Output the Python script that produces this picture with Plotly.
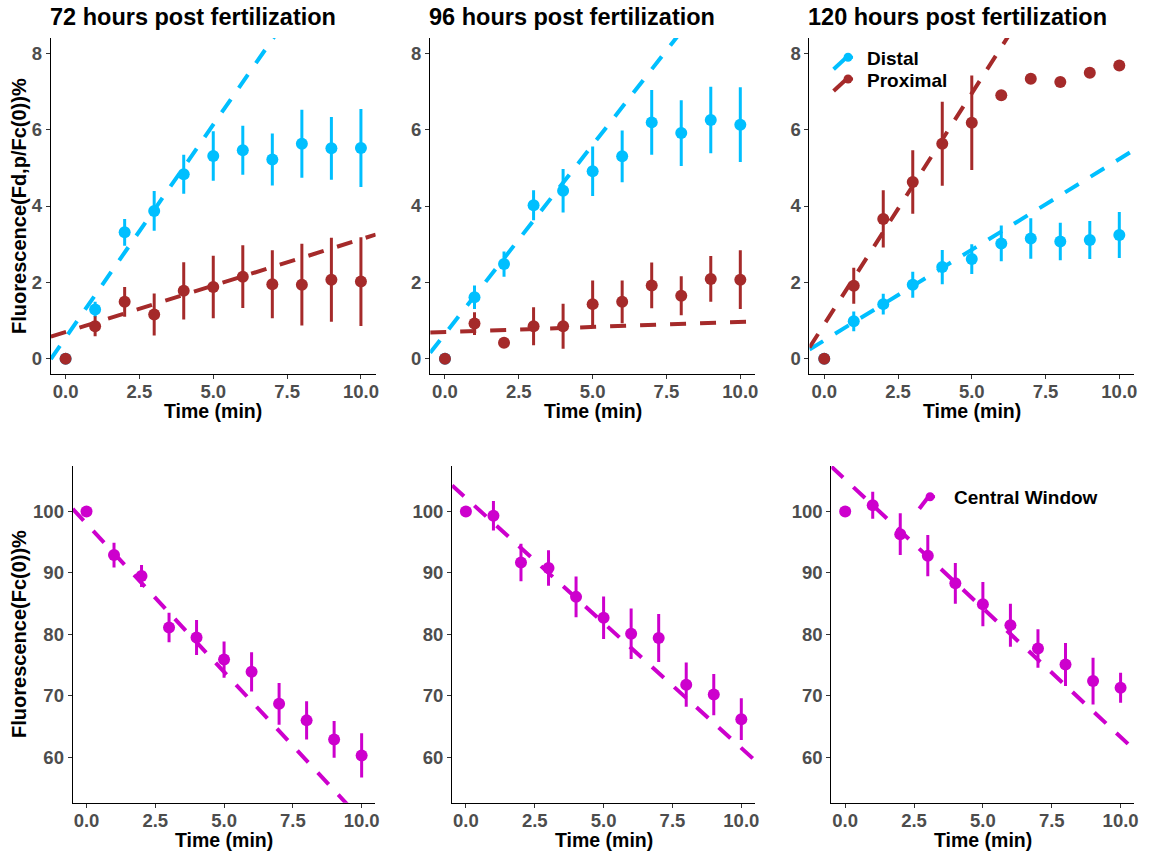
import plotly.graph_objects as go

# ---------------------------------------------------------------------------
# Data: mean fluorescence (%) with error bars, sampled every minute
# ---------------------------------------------------------------------------
time_min = [0, 1, 2, 3, 4, 5, 6, 7, 8, 9, 10]

panel_titles = ["72 hours post fertilization",
                "96 hours post fertilization",
                "120 hours post fertilization"]

# Distal / proximal ratio Fd,p / Fc(0)
distal_72 = [0, 1.29, 3.31, 3.87, 4.83, 5.31, 5.46, 5.22, 5.63, 5.51, 5.52]
distal_72_err = [0, 0.20, 0.35, 0.52, 0.51, 0.65, 0.64, 0.68, 0.89, 0.82, 1.02]
proximal_72 = [0, 0.85, 1.49, 1.16, 1.78, 1.88, 2.15, 1.95, 1.94, 2.07, 2.02]
proximal_72_err = [0, 0.26, 0.39, 0.55, 0.75, 0.82, 0.82, 0.89, 1.07, 1.10, 1.16]

distal_96 = [0, 1.61, 2.48, 4.02, 4.40, 4.91, 5.30, 6.19, 5.91, 6.25, 6.13]
distal_96_err = [0, 0.31, 0.33, 0.39, 0.57, 0.65, 0.68, 0.85, 0.86, 0.87, 0.98]
proximal_96 = [0, 0.92, 0.42, 0.85, 0.85, 1.43, 1.49, 1.92, 1.65, 2.09, 2.07]
proximal_96_err = [0, 0.30, 0.0, 0.50, 0.59, 0.62, 0.56, 0.60, 0.51, 0.60, 0.77]

distal_120 = [0, 0.98, 1.43, 1.94, 2.40, 2.61, 3.02, 3.15, 3.07, 3.11, 3.24]
distal_120_err = [0, 0.26, 0.27, 0.34, 0.45, 0.39, 0.47, 0.53, 0.49, 0.50, 0.60]
proximal_120 = [0, 1.91, 3.66, 4.63, 5.63, 6.18, 6.90, 7.33, 7.25, 7.49, 7.68]
proximal_120_err = [0, 0.47, 0.75, 0.83, 1.10, 1.24, 0, 0, 0, 0, 0]

# Central window Fc / Fc(0)
central_72 = [100, 92.9, 89.5, 81.1, 79.5, 75.9, 73.9, 68.7, 66.0, 62.9, 60.3]
central_72_err = [0, 2.0, 1.8, 2.4, 2.85, 2.95, 3.2, 3.4, 3.1, 3.0, 3.6]
central_96 = [100, 99.3, 91.7, 90.8, 86.1, 82.7, 80.1, 79.4, 71.8, 70.2, 66.2]
central_96_err = [0, 2.4, 3.05, 2.9, 3.3, 3.45, 4.1, 3.9, 3.6, 3.35, 3.4]
central_120 = [100, 101.0, 96.3, 92.8, 88.3, 84.9, 81.5, 77.7, 75.1, 72.4, 71.3]
central_120_err = [0, 2.2, 3.4, 3.35, 3.3, 3.6, 3.5, 3.15, 3.5, 3.8, 2.45]

# Linear fits (intercept, slope) drawn as dashed reference lines
distal_fit = [(0.55, 1.116), (0.65, 0.99), (0.48, 0.475)]
proximal_fit = [(0.70, 0.243), (0.70, 0.0264), (0.90, 1.21)]
central_fit = [(98.0, -4.82), (102.2, -4.07), (105.2, -4.19)]

x_ticks = [0, 2.5, 5, 7.5, 10]
x_tick_text = ["0.0", "2.5", "5.0", "7.5", "10.0"]
ratio_ticks = [0, 2, 4, 6, 8]
central_ticks = [60, 70, 80, 90, 100]

# ---------------------------------------------------------------------------
# Styling / layout
# ---------------------------------------------------------------------------
W, H = 1155, 854
FONT = "Liberation Sans, Arial, Helvetica, sans-serif"
BLUE = "#00BFFF"
RED = "#A52A2A"
MAGENTA = "#CD00CD"

# plot panel boxes in pixels: (left, right, top, bottom)
panels = [
    (51.0, 377.0, 38.0, 374.0),
    (431.7, 757.7, 38.0, 374.0),
    (812.3, 1138.0, 38.0, 374.0),
    (73.0, 376.7, 466.0, 802.7),
    (453.7, 757.7, 466.0, 802.7),
    (834.3, 1138.3, 466.0, 802.7),
]

X_RANGE = [-0.5, 10.5]
RATIO_RANGE = [-0.4, 8.4]
CENTRAL_RANGE = [52.6, 107.4]


def px(x):
    return x / W


def py(y):
    return 1 - y / H


fig = go.Figure()


def add_points(i, y, err, color):
    fig.add_trace(go.Scatter(
        x=time_min, y=y, mode="markers",
        marker=dict(size=12, color=color, line=dict(width=0)),
        error_y=dict(type="data", array=err, visible=True,
                     thickness=3, width=0, color=color),
        xaxis=f"x{i}", yaxis=f"y{i}", showlegend=False,
    ))


def add_fit(i, fit, color):
    a, b = fit
    xs = [X_RANGE[0], X_RANGE[1]]
    fig.add_trace(go.Scatter(
        x=xs, y=[a + b * x for x in xs], mode="lines",
        line=dict(color=color, width=4, dash="16px,14px"),
        xaxis=f"x{i}", yaxis=f"y{i}", showlegend=False, hoverinfo="skip",
    ))


ratio_sets = [
    (distal_72, distal_72_err, proximal_72, proximal_72_err),
    (distal_96, distal_96_err, proximal_96, proximal_96_err),
    (distal_120, distal_120_err, proximal_120, proximal_120_err),
]
central_sets = [
    (central_72, central_72_err),
    (central_96, central_96_err),
    (central_120, central_120_err),
]

for k, (d, de, p, pe) in enumerate(ratio_sets):
    i = k + 1
    add_points(i, d, de, BLUE)
    add_points(i, p, pe, RED)
    add_fit(i, distal_fit[k], BLUE)
    add_fit(i, proximal_fit[k], RED)

for k, (c, ce) in enumerate(central_sets):
    i = k + 4
    add_points(i, c, ce, MAGENTA)
    add_fit(i, central_fit[k], MAGENTA)

axis_common = dict(
    showline=True, linecolor="black", linewidth=1.2, mirror=False,
    ticks="outside", ticklen=4, tickwidth=1.2, tickcolor="#333333",
    showgrid=False, zeroline=False,
    tickfont=dict(family=FONT, size=18.5, color="#4D4D4D", weight="bold"),
)

layout = dict(
    width=W, height=H,
    margin=dict(l=0, r=0, t=0, b=0),
    paper_bgcolor="white", plot_bgcolor="white",
    showlegend=False,
    font=dict(family=FONT),
)

for n, (l, r, t, b) in enumerate(panels):
    i = n + 1
    sfx = "" if i == 1 else str(i)
    top_row = n < 3
    layout[f"xaxis{sfx}"] = dict(
        axis_common, domain=[px(l), px(r)], range=X_RANGE,
        tickvals=x_ticks, ticktext=x_tick_text, anchor=f"y{i}",
        ticklabelstandoff=-3,
    )
    layout[f"yaxis{sfx}"] = dict(
        axis_common, domain=[py(b), py(t)],
        range=RATIO_RANGE if top_row else CENTRAL_RANGE,
        tickvals=ratio_ticks if top_row else central_ticks,
        anchor=f"x{i}",
    )

fig.update_layout(**layout)

annotations = []
# Panel titles
for k, title in enumerate(panel_titles):
    annotations.append(dict(
        text=title, x=px(panels[k][0] - 3), y=py(17.5), xref="paper", yref="paper",
        xanchor="left", yanchor="middle", showarrow=False,
        font=dict(family=FONT, size=23.5, color="black", weight="bold"),
    ))
# x-axis titles
for n, (l, r, t, b) in enumerate(panels):
    annotations.append(dict(
        text="Time (min)", x=px((l + r) / 2), y=py(411 if n < 3 else 840),
        xref="paper", yref="paper", xanchor="center", yanchor="middle",
        showarrow=False,
        font=dict(family=FONT, size=19.5, color="black", weight="bold"),
    ))
# y-axis titles
for text, yc in [("Fluorescence(Fd,p/Fc(0))%", 206), ("Fluorescence(Fc(0))%", 634)]:
    annotations.append(dict(
        text=text, x=px(19), y=py(yc), xref="paper", yref="paper",
        xanchor="center", yanchor="middle", textangle=-90, showarrow=False,
        font=dict(family=FONT, size=20, color="black", weight="bold"),
    ))

# Legends (key glyph: short diagonal dash running into a dot, then label)
legend_entries = [
    ("Distal", BLUE, 868, 58.3, 836.5, 851.0),
    ("Proximal", RED, 868, 80.0, 836.5, 851.0),
    ("Central Window", MAGENTA, 955, 497.7, 922.5, 933.3),
]
shapes = []
for label, color, tx, ty, kx0, kdot in legend_entries:
    annotations.append(dict(
        text=label, x=px(tx), y=py(ty), xref="paper", yref="paper",
        xanchor="left", yanchor="middle", showarrow=False,
        font=dict(family=FONT, size=19, color="black", weight="bold"),
    ))
    shapes.append(dict(
        type="line", xref="paper", yref="paper",
        x0=px(kx0), y0=py(ty + 11), x1=px(kdot - 2), y1=py(ty - 0.5),
        line=dict(color=color, width=4),
    ))
    shapes.append(dict(
        type="line", xref="paper", yref="paper",
        x0=px(kdot), y0=py(ty - 1), x1=px(kdot + 5), y1=py(ty - 1),
        line=dict(color=color, width=3),
    ))
    shapes.append(dict(
        type="circle", xref="paper", yref="paper",
        x0=px(kdot - 4.5), x1=px(kdot + 4.5),
        y0=py(ty - 1 + 4.5), y1=py(ty - 1 - 4.5),
        fillcolor=color, line=dict(width=0),
    ))

fig.update_layout(annotations=annotations, shapes=shapes)

fig.write_html("out.html")
